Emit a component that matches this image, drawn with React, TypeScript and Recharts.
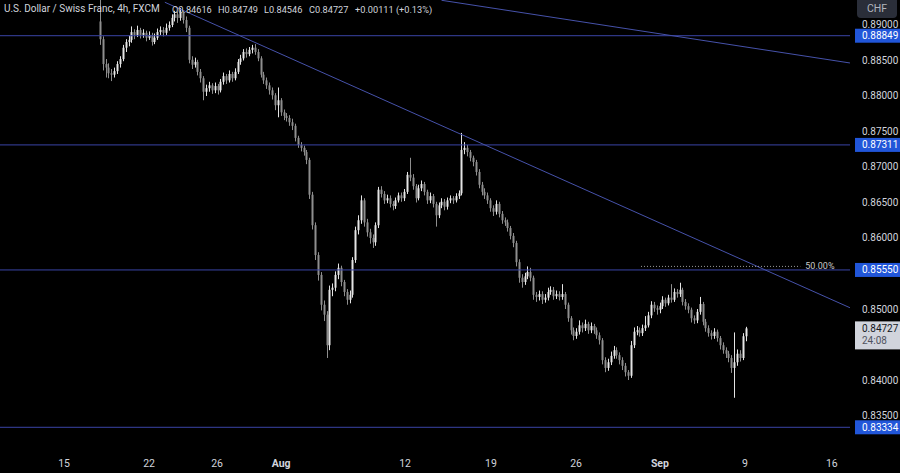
import React from 'react';
import { ComposedChart, Bar, XAxis, YAxis, ReferenceLine } from 'recharts';

// prices in pips (price × 10000)
const firstOpen = 8905;
const closes = [
  8880, 8845, 8840, 8832, 8830, 8835, 8845, 8852, 8868, 8876,
  8879, 8890, 8886, 8893, 8886, 8889, 8882, 8886, 8876, 8882,
  8890, 8893, 8889, 8896, 8900, 8910, 8915, 8910, 8918, 8907,
  8896, 8851, 8844, 8848, 8834, 8825, 8806, 8811, 8815, 8808,
  8814, 8808, 8820, 8828, 8822, 8831, 8825, 8834, 8848, 8853,
  8862, 8859, 8865, 8868, 8862, 8853, 8830, 8822, 8815, 8808,
  8801, 8787, 8794, 8777, 8772, 8769, 8763, 8758, 8741, 8731,
  8727, 8721, 8710, 8661, 8618, 8576, 8548, 8506, 8492, 8449,
  8527, 8530, 8548, 8558, 8538, 8524, 8513, 8520, 8569, 8611,
  8625, 8653, 8622, 8608, 8600, 8594, 8618, 8668, 8662, 8653,
  8656, 8648, 8645, 8653, 8660, 8656, 8665, 8689, 8685, 8673,
  8656, 8670, 8676, 8665, 8653, 8659, 8648, 8632, 8646, 8651,
  8644, 8653, 8656, 8653, 8659, 8663, 8724, 8727, 8721, 8713,
  8707, 8693, 8675, 8665, 8660, 8653, 8642, 8637, 8648, 8634,
  8625, 8622, 8614, 8603, 8593, 8566, 8544, 8538, 8546, 8552,
  8544, 8520, 8517, 8521, 8513, 8516, 8524, 8527, 8518, 8521,
  8517, 8521, 8506, 8487, 8470, 8462, 8468, 8477, 8473, 8479,
  8470, 8476, 8470, 8463, 8456, 8428, 8417, 8425, 8434, 8442,
  8435, 8428, 8420, 8411, 8406, 8449, 8468, 8470, 8466, 8473,
  8477, 8491, 8506, 8501, 8499, 8504, 8513, 8508, 8516, 8513,
  8524, 8521, 8527, 8510, 8504, 8499, 8487, 8484, 8496, 8507,
  8482, 8473, 8466, 8462, 8468, 8459, 8449, 8442, 8437, 8431,
  8417, 8425, 8437, 8431, 8461.6, 8472.7,
];
const highs = [
  8940, 8884, 8852, 8846, 8838, 8840, 8849, 8856, 8872, 8880,
  8885, 8898, 8894, 8899, 8896, 8894, 8892, 8891, 8889, 8888,
  8895, 8898, 8897, 8902, 8905, 8915, 8920, 8919, 8924, 8921,
  8912, 8899, 8856, 8854, 8851, 8838, 8828, 8816, 8820, 8818,
  8819, 8817, 8824, 8833, 8831, 8836, 8834, 8839, 8852, 8858,
  8866, 8867, 8869, 8872, 8873, 8866, 8856, 8834, 8826, 8819,
  8812, 8804, 8812, 8797, 8781, 8776, 8773, 8768, 8761, 8744,
  8735, 8730, 8724, 8713, 8665, 8622, 8580, 8552, 8512, 8497,
  8533, 8536, 8553, 8564, 8561, 8541, 8528, 8526, 8573, 8616,
  8632, 8660, 8656, 8627, 8613, 8605, 8622, 8672, 8673, 8666,
  8661, 8660, 8652, 8657, 8664, 8664, 8669, 8693, 8713, 8690,
  8676, 8675, 8681, 8679, 8668, 8664, 8662, 8651, 8650, 8656,
  8655, 8657, 8660, 8659, 8663, 8667, 8748, 8735, 8731, 8724,
  8716, 8710, 8697, 8679, 8670, 8664, 8656, 8646, 8653, 8651,
  8638, 8629, 8626, 8617, 8607, 8596, 8570, 8549, 8551, 8560,
  8558, 8547, 8524, 8526, 8525, 8521, 8530, 8532, 8531, 8526,
  8525, 8535, 8524, 8509, 8490, 8474, 8473, 8484, 8481, 8485,
  8482, 8481, 8479, 8474, 8467, 8459, 8432, 8430, 8440, 8448,
  8446, 8439, 8432, 8424, 8414, 8455, 8474, 8476, 8474, 8478,
  8490, 8496, 8511, 8510, 8505, 8509, 8518, 8516, 8520, 8535,
  8529, 8528, 8537, 8530, 8514, 8508, 8502, 8491, 8500, 8517,
  8510, 8486, 8477, 8470, 8473, 8471, 8462, 8453, 8446, 8441,
  8435, 8467, 8443, 8442, 8466, 8474.9,
];
const lows = [
  8872, 8836, 8826, 8825, 8821, 8826, 8831, 8840, 8849, 8862,
  8870, 8875, 8880, 8883, 8881, 8882, 8877, 8879, 8871, 8873,
  8879, 8886, 8884, 8886, 8892, 8897, 8905, 8903, 8906, 8902,
  8890, 8846, 8838, 8840, 8829, 8819, 8794, 8800, 8806, 8803,
  8804, 8802, 8805, 8816, 8817, 8819, 8820, 8822, 8831, 8844,
  8850, 8854, 8856, 8860, 8858, 8849, 8826, 8817, 8810, 8802,
  8795, 8780, 8770, 8772, 8766, 8764, 8758, 8752, 8736, 8727,
  8722, 8716, 8704, 8655, 8612, 8569, 8540, 8498, 8483, 8431,
  8442, 8518, 8525, 8542, 8532, 8518, 8506, 8508, 8516, 8565,
  8605, 8620, 8616, 8602, 8592, 8586, 8589, 8614, 8657, 8648,
  8649, 8643, 8639, 8641, 8650, 8651, 8652, 8662, 8680, 8668,
  8650, 8653, 8666, 8660, 8648, 8649, 8643, 8616, 8628, 8642,
  8639, 8640, 8649, 8648, 8650, 8655, 8660, 8718, 8715, 8708,
  8701, 8688, 8670, 8660, 8655, 8648, 8637, 8631, 8633, 8629,
  8620, 8617, 8609, 8598, 8587, 8560, 8537, 8530, 8534, 8542,
  8539, 8513, 8510, 8512, 8507, 8509, 8512, 8520, 8513, 8514,
  8512, 8513, 8500, 8482, 8464, 8456, 8458, 8464, 8467, 8469,
  8465, 8466, 8465, 8458, 8450, 8422, 8411, 8413, 8421, 8430,
  8430, 8422, 8414, 8405, 8400, 8403, 8445, 8463, 8461, 8462,
  8469, 8474, 8487, 8496, 8492, 8494, 8500, 8503, 8505, 8509,
  8510, 8516, 8517, 8505, 8499, 8494, 8481, 8479, 8480, 8492,
  8477, 8468, 8461, 8457, 8458, 8454, 8443, 8437, 8431, 8425,
  8410, 8375, 8420, 8426, 8428, 8454.6,
];

const yTicks = [8350, 8400, 8500, 8600, 8650, 8700, 8750, 8800, 8850, 8900];
const xTickPos = [-12.5, 17.1, 40.8, 63.1, 106.3, 136.2, 165.9, 195.1, 224.7, 255];
const xTickLabels = ['15', '22', '26', 'Aug', '12', '19', '26', 'Sep', '9', '16'];
const levels = [8884.9, 8731.1, 8555.0, 8333.4];
const trendA = [{ x: 22.6, y: 8932 }, { x: 261.3, y: 8501.8 }];
const trendB = [{ x: 119, y: 8934.8 }, { x: 261.3, y: 8846.5 }];
const fib50 = [{ x: 188.5, y: 8560 }, { x: 244, y: 8560 }];
const lastPrice = 8472.7;
const countdown = '24:08';
const headerTitle = 'U.S. Dollar / Swiss Franc, 4h, FXCM';
const headerValues = ['O0.84616', 'H0.84749', 'L0.84546', 'C0.84727', '+0.00111 (+0.13%)'];
const headerLefts = [172, 218, 264, 309, 355];

const data = closes.map((c, k) => ({
  i: k,
  o: k === 0 ? firstOpen : closes[k - 1],
  c,
  h: highs[k],
  l: lows[k],
  range: [lows[k], highs[k]],
}));

const FONT = 'Roboto, "Liberation Sans", sans-serif';
const fmt = (v: number) => (v / 10000).toFixed(5);

const Candle = (props: any) => {
  const { x, y, width, height, payload } = props;
  if (!payload || x == null) return null;
  const { o, c, h, l } = payload;
  const top = Math.min(y, y + height);
  const hh = Math.abs(height);
  const ratio = hh / (h - l || 1);
  const cx = Math.round(x + width / 2) + 0.5;
  const bTop = top + (h - Math.max(o, c)) * ratio;
  const bBot = top + (h - Math.min(o, c)) * ratio;
  const up = c >= o;
  const col = up ? '#e4e4e4' : '#8e8e8e';
  return (
    <g>
      <line x1={cx} x2={cx} y1={top} y2={top + hh} stroke={col} strokeWidth={1} />
      <rect x={cx - 1} y={bTop} width={2} height={Math.max(1, bBot - bTop)} fill={col} />
    </g>
  );
};

const XTick = (props: any) => {
  const { x, y, payload } = props;
  const idx = xTickPos.indexOf(payload.value);
  const label = xTickLabels[idx];
  const bold = label === 'Aug' || label === 'Sep';
  return (
    <text x={x} y={y + 7} textAnchor="middle" fill="#d1d4dc" fontSize={10.5} fontFamily={FONT} fontWeight={bold ? 700 : 400}>
      {label}
    </text>
  );
};

const YTick = (props: any) => {
  const { x, y, payload } = props;
  return (
    <text x={x + 4} y={y + 3.5} textAnchor="start" fill="#d1d4dc" fontSize={10} fontFamily={FONT}>
      {fmt(payload.value)}
    </text>
  );
};

const levelLabel = (text: string) => (p: any) => {
  const vb = p.viewBox;
  const xr = vb.x + vb.width;
  return (
    <g>
      <rect x={xr + 5} y={vb.y - 7} width={45} height={14} fill="#2156d9" />
      <text x={xr + 12} y={vb.y + 3.5} fill="#ffffff" fontSize={10} fontFamily={FONT}>{text}</text>
    </g>
  );
};

const priceLabel = (p: any) => {
  const vb = p.viewBox;
  const xr = vb.x + vb.width;
  return (
    <g>
      <rect x={xr + 5} y={vb.y - 7} width={45} height={28} fill="#d1d4dc" />
      <text x={xr + 12} y={vb.y + 3.5} fill="#131722" fontSize={10} fontFamily={FONT}>{fmt(lastPrice)}</text>
      <text x={xr + 12} y={vb.y + 16} fill="#50535e" fontSize={10} fontFamily={FONT}>{countdown}</text>
    </g>
  );
};

const fibLabel = (p: any) => {
  const vb = p.viewBox;
  return (
    <text x={vb.x + vb.width + 5} y={vb.y + 3} fill="#c8c8c8" fontSize={9} fontFamily={FONT}>50.00%</text>
  );
};

export default function App() {
  return (
    <div style={{ position: 'relative', width: 900, height: 473, background: '#000', overflow: 'hidden' }}>
      <style>{`body{margin:0;background:#000}`}</style>
      <ComposedChart width={900} height={473} data={data} margin={{ top: 0, right: 0, bottom: 0, left: 0 }}>
        <XAxis
          dataKey="i"
          type="number"
          domain={[-34.84, 261.32]}
          allowDataOverflow
          ticks={xTickPos}
          tick={<XTick />}
          axisLine={false}
          tickLine={false}
          height={21}
          interval={0}
        />
        <YAxis
          orientation="right"
          type="number"
          domain={[8298.6, 8935.2]}
          allowDataOverflow
          ticks={yTicks}
          tick={<YTick />}
          axisLine={false}
          tickLine={false}
          width={50}
          interval={0}
        />
        {levels.map((lv) => (
          <ReferenceLine key={lv} y={lv} stroke="#3a44a6" strokeWidth={1} ifOverflow="visible" label={{ content: levelLabel(fmt(lv)) }} />
        ))}
        <ReferenceLine segment={trendA} stroke="#4652aa" strokeWidth={1} ifOverflow="hidden" />
        <ReferenceLine segment={trendB} stroke="#4652aa" strokeWidth={1} ifOverflow="hidden" />
        <ReferenceLine segment={fib50} stroke="#9a9a9a" strokeWidth={1} strokeDasharray="1 2" ifOverflow="visible" label={{ content: fibLabel }} />
        <Bar dataKey="range" barSize={3} shape={<Candle />} isAnimationActive={false} />
        <ReferenceLine y={lastPrice} stroke="none" strokeOpacity={0} ifOverflow="visible" label={{ content: priceLabel }} />
      </ComposedChart>
      <div style={{ position: 'absolute', left: 0, top: 3, width: 460, height: 14, fontFamily: FONT, color: '#d1d4dc', whiteSpace: 'nowrap' }}>
        <span style={{ position: 'absolute', left: 4, fontSize: 10 }}>{headerTitle}</span>
        {headerValues.map((t, k) => (
          <span key={t} style={{ position: 'absolute', left: headerLefts[k], fontSize: 9.2, top: 0.5 }}>{t}</span>
        ))}
      </div>
      <div style={{ position: 'absolute', left: 857, top: 0, width: 40, height: 18, background: '#2a2e39', borderRadius: '0 0 4px 4px', color: '#b2b5be', fontFamily: FONT, fontSize: 10.5, lineHeight: '18px', textAlign: 'center' }}>
        CHF
      </div>
    </div>
  );
}
